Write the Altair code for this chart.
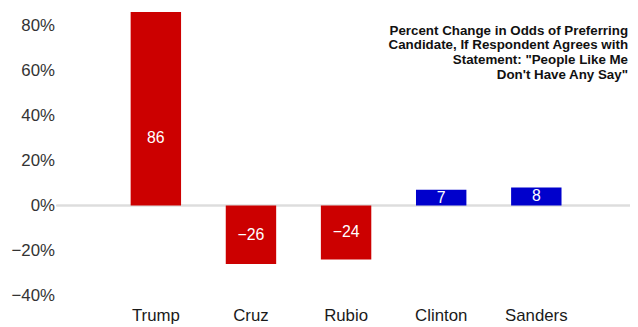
import altair as alt
import pandas as pd

candidates = ["Trump", "Cruz", "Rubio", "Clinton", "Sanders"]
values = [86, -26, -24, 7, 8]
party = ["Republican", "Republican", "Republican", "Democrat", "Democrat"]
y_ticks = [-40, -20, 0, 20, 40, 60, 80]
title_text = ("Percent Change in Odds of Preferring\n"
              "Candidate, If Respondent Agrees with\n"
              "Statement: \"People Like Me\n"
              "Don't Have Any Say\"")

df = pd.DataFrame({"candidate": candidates, "value": values, "party": party})

FONT = "Liberation Sans"

x_enc = alt.X("candidate:N", sort=candidates,
              scale=alt.Scale(paddingInner=0.47, paddingOuter=0.75, align=0.52),
              axis=alt.Axis(title=None, labelAngle=0, domain=False, ticks=False,
                            labelPadding=8, labelFontSize=17, labelFont=FONT,
                            labelColor="#1a1a1a"))
y_scale = alt.Scale(domain=[-42, 87], nice=False, zero=False)

base = alt.Chart(df)

bars = base.mark_bar().encode(
    x=x_enc,
    y=alt.Y("value:Q", scale=y_scale,
            axis=alt.Axis(title=None, values=y_ticks, grid=False, domain=False,
                          ticks=False, labelPadding=2, labelFontSize=17,
                          labelFont=FONT, labelColor="#333333",
                          labelExpr="format(datum.value, 'd') + '%'")),
    y2=alt.datum(0),
    color=alt.Color("party:N",
                    scale=alt.Scale(domain=["Republican", "Democrat"],
                                    range=["#cc0000", "#0000cc"]),
                    legend=None),
)

zero = base.mark_rule(color="#dddddd", strokeWidth=1.5).encode(
    y=alt.datum(0)
)

labels = base.transform_calculate(
    ypos="min(datum.value / 2, 30)"
).mark_text(color="white", fontSize=16, font=FONT, baseline="middle").encode(
    x=alt.X("candidate:N", sort=candidates),
    y=alt.Y("ypos:Q", scale=y_scale),
    text=alt.Text("value:Q", format="d"),
)

title = alt.Chart(pd.DataFrame({"t": [title_text]})).mark_text(
    align="right", baseline="middle", fontSize=13.5, fontWeight="bold",
    font=FONT, lineBreak="\n", lineHeight=15, color="#111111"
).encode(
    x=alt.value(578), y=alt.value(21), text="t:N"
)

chart = alt.layer(zero, bars, labels, title).properties(
    width=580, height=293.5,
    padding={"left": 49, "top": 0, "right": 0, "bottom": 30},
    autosize=alt.AutoSizeParams(type="none"),
).configure_view(stroke=None)

chart.save("out.html", embed_options={"renderer": "svg", "actions": False})
